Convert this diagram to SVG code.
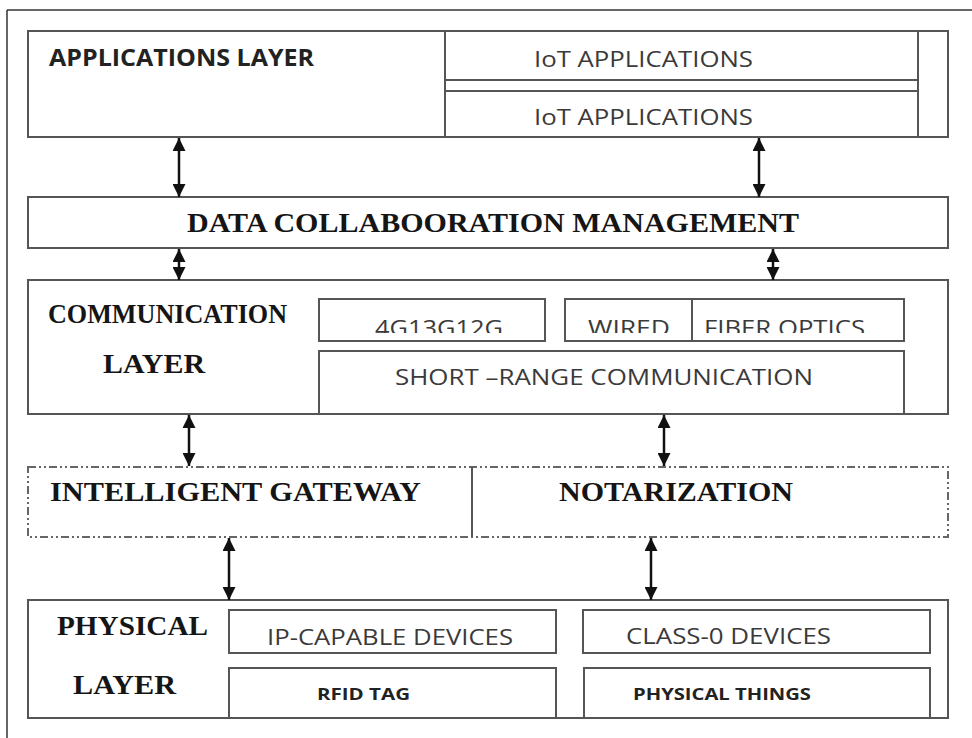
<svg xmlns="http://www.w3.org/2000/svg" width="972" height="738" viewBox="0 0 972 738">
<style>
.box{fill:none;stroke:#555;stroke-width:2}
.dash{fill:none;stroke:#666;stroke-width:2;stroke-dasharray:8 3 2 3 2 3}
.ser{font-family:"Liberation Serif","Times New Roman",serif;font-weight:bold;font-size:27px;fill:#151515}
.sans{font-family:"Open Sans","Liberation Sans",sans-serif;font-size:22px;fill:#3a3a3a}
.sansb{font-family:"Open Sans","Liberation Sans",sans-serif;font-weight:bold;fill:#222}
.conn{stroke:#111;stroke-width:2.5;marker-start:url(#ah);marker-end:url(#ah)}
</style>
<defs>
<marker id="ah" viewBox="0 0 12 12" refX="12" refY="6" markerWidth="13" markerHeight="13" markerUnits="userSpaceOnUse" orient="auto-start-reverse">
<path d="M0,0 L12,6 L0,12 z" fill="#111"/>
</marker>
<clipPath id="clipTop"><rect x="300" y="290" width="620" height="43"/></clipPath>
</defs>
<rect width="972" height="738" fill="#fff"/>
<g id="frame">
<line x1="7" y1="10" x2="972" y2="10" stroke="#333" stroke-width="1.5"/>
<line x1="7" y1="10" x2="7" y2="738" stroke="#333" stroke-width="1.5"/>
</g>
<g id="applications-layer">
<rect class="box" x="28" y="31" width="920" height="106"/>
<text class="sansb" x="49" y="66" font-size="23" textLength="265" lengthAdjust="spacingAndGlyphs">APPLICATIONS LAYER</text>
</g>
<g id="iot-app-1">
<rect class="box" x="445" y="31" width="473" height="49"/>
<text class="sans" x="534" y="67" font-size="23" textLength="219" lengthAdjust="spacingAndGlyphs">IoT APPLICATIONS</text>
</g>
<g id="iot-app-2">
<line class="box" x1="445" y1="80" x2="445" y2="91"/>
<line class="box" x1="918" y1="80" x2="918" y2="91"/>
<rect class="box" x="445" y="91" width="473" height="46"/>
<text class="sans" x="534" y="125" font-size="23" textLength="219" lengthAdjust="spacingAndGlyphs">IoT APPLICATIONS</text>
</g>
<g id="data-collaboration">
<rect class="box" x="28" y="197" width="920" height="51"/>
<text class="ser" x="187" y="232" textLength="612" lengthAdjust="spacingAndGlyphs">DATA COLLABOORATION MANAGEMENT</text>
</g>
<g id="communication-layer">
<rect class="box" x="28" y="280" width="920" height="134"/>
<text class="ser" x="48" y="323" textLength="239" lengthAdjust="spacingAndGlyphs">COMMUNICATION</text>
<text class="ser" x="103" y="373" textLength="102" lengthAdjust="spacingAndGlyphs">LAYER</text>
</g>
<g id="cellular">
<rect class="box" x="319" y="299" width="226" height="42"/>
<text class="sans" x="375" y="336" clip-path="url(#clipTop)" textLength="128" lengthAdjust="spacingAndGlyphs">4G13G12G</text>
</g>
<g id="wired-fiber">
<rect class="box" x="565" y="299" width="339" height="42"/>
<line class="box" x1="692" y1="299" x2="692" y2="341"/>
<text class="sans" x="588" y="336" clip-path="url(#clipTop)" textLength="82" lengthAdjust="spacingAndGlyphs">WIRED</text>
<text class="sans" x="704" y="336" clip-path="url(#clipTop)" textLength="161" lengthAdjust="spacingAndGlyphs">FIBER OPTICS</text>
</g>
<g id="short-range">
<rect class="box" x="319" y="351" width="585" height="63"/>
<text class="sans" x="395" y="385" textLength="418" lengthAdjust="spacingAndGlyphs">SHORT –RANGE COMMUNICATION</text>
</g>
<g id="gateway-layer">
<rect class="dash" x="28" y="467" width="920" height="70"/>
<line class="box" x1="472" y1="467" x2="472" y2="537"/>
<text class="ser" x="50" y="501" textLength="371" lengthAdjust="spacingAndGlyphs">INTELLIGENT GATEWAY</text>
<text class="ser" x="559" y="501" textLength="234" lengthAdjust="spacingAndGlyphs">NOTARIZATION</text>
</g>
<g id="physical-layer">
<rect class="box" x="28" y="600" width="920" height="118"/>
<text class="ser" x="57" y="635" textLength="151" lengthAdjust="spacingAndGlyphs">PHYSICAL</text>
<text class="ser" x="73" y="694" textLength="103" lengthAdjust="spacingAndGlyphs">LAYER</text>
</g>
<g id="ip-devices">
<rect class="box" x="229" y="610" width="327" height="43"/>
<text class="sans" x="267" y="645" font-size="21" textLength="246" lengthAdjust="spacingAndGlyphs">IP-CAPABLE DEVICES</text>
</g>
<g id="class0-devices">
<rect class="box" x="583" y="610" width="347" height="43"/>
<text class="sans" x="626" y="644" font-size="21" textLength="205" lengthAdjust="spacingAndGlyphs">CLASS-0 DEVICES</text>
</g>
<g id="rfid">
<rect class="box" x="229" y="668" width="327" height="50"/>
<text class="sansb" x="317" y="700" font-size="16" textLength="93" lengthAdjust="spacingAndGlyphs">RFID TAG</text>
</g>
<g id="physical-things">
<rect class="box" x="584" y="668" width="346" height="50"/>
<text class="sansb" x="633" y="700" font-size="16" textLength="178" lengthAdjust="spacingAndGlyphs">PHYSICAL THINGS</text>
</g>
<g id="connectors">
<line class="conn" x1="179" y1="138" x2="179" y2="197"/>
<line class="conn" x1="759" y1="138" x2="759" y2="197"/>
<line class="conn" x1="179" y1="249" x2="179" y2="280"/>
<line class="conn" x1="773" y1="249" x2="773" y2="280"/>
<line class="conn" x1="189" y1="415" x2="189" y2="466"/>
<line class="conn" x1="664" y1="415" x2="664" y2="466"/>
<line class="conn" x1="229" y1="538" x2="229" y2="600"/>
<line class="conn" x1="651" y1="538" x2="651" y2="600"/>
</g>
</svg>
